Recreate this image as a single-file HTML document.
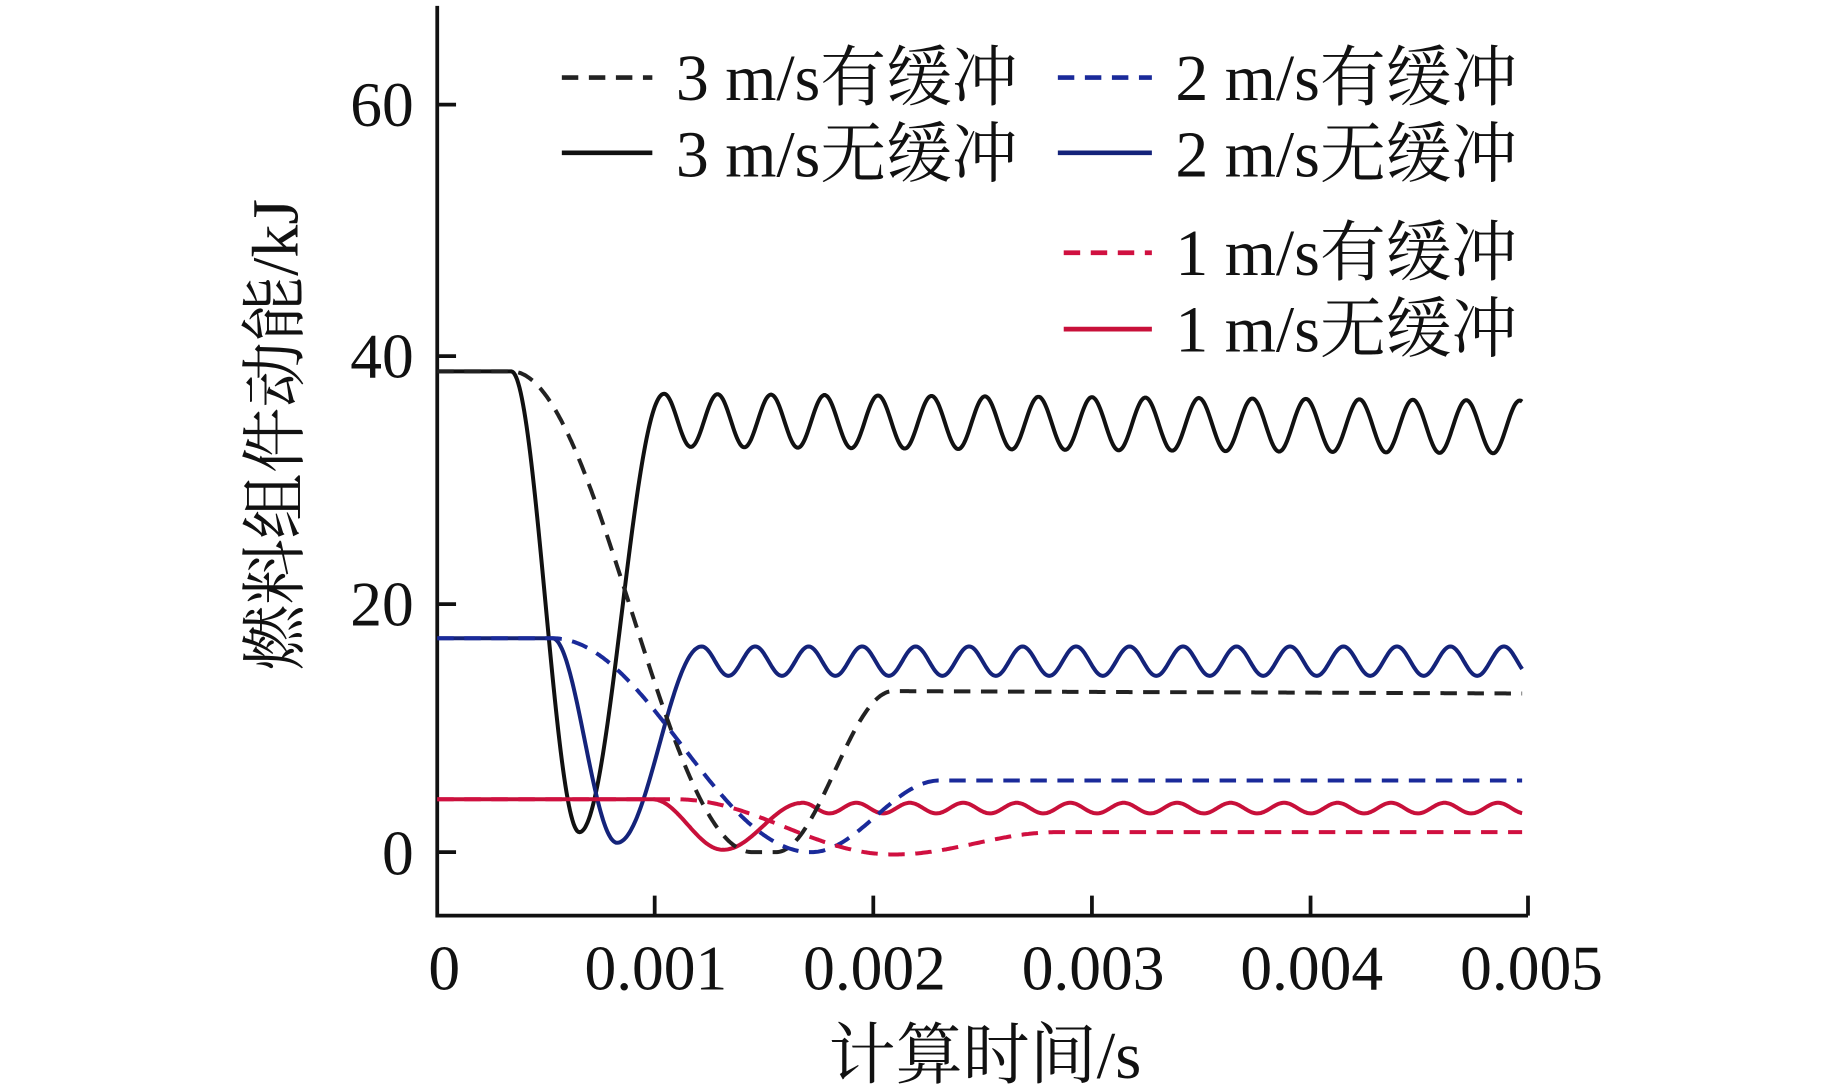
<!DOCTYPE html>
<html><head><meta charset="utf-8"><style>
html,body{margin:0;padding:0;background:#fff;}
svg{display:block;}
text{font-family:"Liberation Serif","Noto Serif CJK SC","Noto Sans CJK SC",serif;fill:#111;}
</style></head><body>
<svg id="s" width="1843" height="1091" viewBox="0 0 1568 928.2" xmlns="http://www.w3.org/2000/svg">
<g stroke="#111" stroke-width="3.2" fill="none">
<path d="M372 5 V779 H1300"/>
<path d="M372 89 h16 M372 303 h16 M372 514 h16 M372 725 h16"/>
<path d="M557 779 v-17 M743 779 v-17 M929 779 v-17 M1115 779 v-17 M1300 779 v-17"/>
</g>
<g font-size="54" text-anchor="end">
<text x="352" y="107">60</text><text x="352" y="321">40</text>
<text x="352" y="532">20</text><text x="352" y="744">0</text>
</g>
<g font-size="54" text-anchor="middle">
<text x="378" y="842">0</text><text x="558" y="842">0.001</text><text x="744" y="842">0.002</text>
<text x="930" y="842">0.003</text><text x="1116" y="842">0.004</text><text x="1303" y="842">0.005</text>
</g>
<text x="838" y="917" font-size="57" text-anchor="middle">计算时间/s</text>
<text font-size="56" text-anchor="middle" transform="translate(253,370) rotate(-90)">燃料组件动能/kJ</text>
<g stroke-width="4">
<line x1="478" y1="66" x2="555" y2="66" stroke="#222" stroke-dasharray="14,9"/>
<line x1="900" y1="66" x2="980" y2="66" stroke="#1a2a9a" stroke-dasharray="14,9"/>
<line x1="478" y1="130" x2="555" y2="130" stroke="#111"/>
<line x1="900" y1="130" x2="980" y2="130" stroke="#14237a"/>
<line x1="905" y1="215" x2="980" y2="215" stroke="#d01040" stroke-dasharray="14,9"/>
<line x1="905" y1="280" x2="980" y2="280" stroke="#c8103a"/>
</g>
<g font-size="56">
<text x="575" y="85">3 m/s有缓冲</text><text x="1000" y="85">2 m/s有缓冲</text>
<text x="575" y="150">3 m/s无缓冲</text><text x="1000" y="150">2 m/s无缓冲</text>
<text x="1000" y="234">1 m/s有缓冲</text><text x="1000" y="299">1 m/s无缓冲</text>
</g>
<g id="curves" fill="none" stroke-width="3.4"></g>
</svg>
<script>
function cosSeg(x0,y0,x1,y1){return function(x){var t=(x-x0)/(x1-x0);return y0+(y1-y0)*(1-Math.cos(Math.PI*t))/2;};}
function build(segs,tail,xEnd){
  var pts=[];
  for(var x=372;x<=xEnd;x+=1){
    var y=null;
    for(var i=0;i<segs.length;i++){var s=segs[i];if(x>=s[0]&&x<s[1]){y=s[2](x);break;}}
    if(y===null)y=tail(x);
    pts.push(x.toFixed(1)+","+y.toFixed(1));
  }
  return "M"+pts.join(" L");
}
var P=45.5;
var defs=[
 {c:"#111",d:null,segs:[[372,435,function(){return 316}],[435,493,cosSeg(435,316,493,708)],[493,565,cosSeg(493,708,565,335)]],
  tail:function(x){return 357.5-22.5*Math.cos(2*Math.PI*(x-565)/P)+ (x-565)*0.008;}},
 {c:"#14237a",d:null,segs:[[372,470,function(){return 543}],[470,525,cosSeg(470,543,525,717)],[525,597,cosSeg(525,717,597,550)]],
  tail:function(x){return 562.5-12.5*Math.cos(2*Math.PI*(x-597)/P);}},
 {c:"#c8103a",d:null,segs:[[372,555,function(){return 680}],[555,615,cosSeg(555,680,615,723)],[615,680,cosSeg(615,723,683,683)]],
  tail:function(x){return 687.5-4.5*Math.cos(2*Math.PI*(x-683)/P);}},
 {c:"#222",d:"14,9",segs:[[372,435,function(){return 316}],[435,640,cosSeg(435,316,640,725)],[640,660,function(){return 725}],[660,760,cosSeg(660,725,760,588)]],
  tail:function(x){return 588+(x-760)*2/535;}},
 {c:"#1a2a9a",d:"14,9",segs:[[372,470,function(){return 543}],[470,690,cosSeg(470,543,690,725)],[690,800,cosSeg(690,725,800,664)]],
  tail:function(x){return 664;}},
 {c:"#d01040",d:"14,9",segs:[[372,575,function(){return 680}],[575,760,cosSeg(575,680,760,727)],[760,900,cosSeg(760,727,900,708)]],
  tail:function(x){return 708;}}
];
var g=document.getElementById("curves"),ns="http://www.w3.org/2000/svg";
defs.forEach(function(o){
  var p=document.createElementNS(ns,"path");
  p.setAttribute("d",build(o.segs,o.tail,1295));
  p.setAttribute("stroke",o.c);
  if(o.d)p.setAttribute("stroke-dasharray",o.d);
  g.appendChild(p);
});
</script>
</body></html>
